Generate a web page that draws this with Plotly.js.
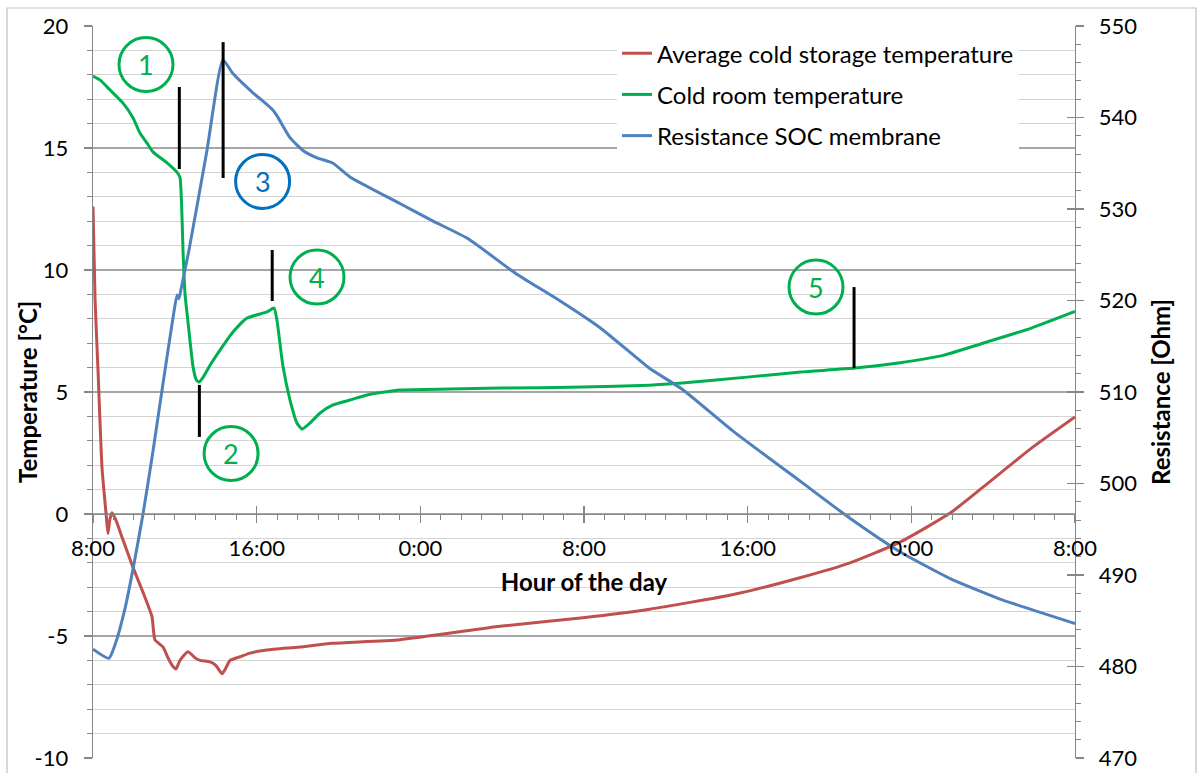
<!DOCTYPE html>
<html>
<head>
<meta charset="utf-8">
<script src="https://cdn.plot.ly/plotly-3.0.1.min.js"></script>
<style>html,body{margin:0;padding:0;background:#fff;}#chart{width:1199px;height:773px;}</style>
</head>
<body>
<div id="chart"></div>
<script>
// ---- Data (hours since 8:00 on day 1) ----
const seriesNames = ["Average cold storage temperature", "Cold room temperature", "Resistance SOC membrane"];

const redHours = [0,0.1,0.24,0.44,0.64,0.73,0.83,0.93,1.12,1.47,1.96,2.44,2.88,3.03,3.42,3.67,3.91,4.06,4.25,4.64,5.0,5.23,5.72,6.0,6.31,6.5,6.7,7.2,7.67,8.5,10.1,11.7,15.0,19.9,23.95,27.2,31.3,34.6,37.0,39.45,41.9,43.5,45.95,48];
const redTemp  = [12.6,8.8,6.0,1.9,0.0,-0.8,-0.2,0.05,-0.25,-1.07,-2.2,-3.2,-4.2,-5.16,-5.45,-5.9,-6.25,-6.35,-6.0,-5.65,-5.9,-6.0,-6.06,-6.2,-6.55,-6.3,-6.0,-5.85,-5.7,-5.57,-5.45,-5.3,-5.15,-4.6,-4.25,-3.9,-3.3,-2.6,-2.0,-1.15,0.04,1.1,2.75,3.98];

const greenHours = [0,0.34,0.83,1.47,1.96,2.30,2.64,2.93,3.62,4.11,4.25,4.35,4.40,4.50,4.64,4.89,5.05,5.18,5.38,5.72,6.21,6.84,7.53,8.51,8.85,8.99,9.29,9.63,9.97,10.22,10.61,11.10,11.73,12.56,13.39,15.0,17.45,19.9,23.95,27.2,28.8,32.1,34.6,37.25,39.45,41.55,43.5,45.8,48];
const greenTemp  = [17.95,17.79,17.38,16.84,16.23,15.6,15.2,14.84,14.39,14.0,13.8,12.2,10.8,9.0,7.9,6.03,5.5,5.41,5.6,6.1,6.72,7.46,8.03,8.28,8.44,7.95,6.03,4.67,3.73,3.48,3.73,4.14,4.47,4.67,4.88,5.08,5.12,5.16,5.2,5.28,5.37,5.62,5.82,5.98,6.2,6.5,7.0,7.6,8.3];

const blueHours = [0,0.78,1.08,1.56,1.96,2.44,2.93,3.42,3.91,4.11,4.2,4.3,4.69,5.57,6.35,6.84,7.82,8.41,8.80,8.99,9.63,10.26,10.95,11.73,12.56,15.0,16.6,18.3,20.7,22.8,24.8,27.2,28.8,31.3,34.6,37.0,39.4,41.9,44.3,48];
const blueOhm   = [481.9,480.9,482.4,486.3,490.7,496.6,503.5,510.9,518.1,520.6,520.2,521.2,525.5,536.4,546.3,544.8,542.7,541.6,540.8,540.2,537.8,536.4,535.6,535.0,533.5,530.6,528.7,526.8,522.9,520.0,517.0,512.6,510.3,505.7,500.2,496.2,492.6,489.6,487.4,484.7];

const xTickVals = [0,8,16,24,32,40,48];
const xTickText = ["8:00","16:00","0:00","8:00","16:00","0:00","8:00"];
const yTickVals = [-10,-5,0,5,10,15,20];
const yTickText = ["-10","-5","0","5","10","15","20"];

// Numbered markers: label, hour, temperature, colour
const markerLabels = ["1","2","3","4","5"];
const markerHours  = [2.59, 6.75, 8.29, 10.95, 35.34];
const markerTemps  = [18.42, 2.48, 13.63, 9.71, 9.30];
const markerColors = ["#00B050","#00B050","#0070C0","#00B050","#00B050"];

// Black indicator segments: hour, temp from, temp to
const segHours = [4.22, 6.36, 5.2, 8.76, 37.2];
const segFrom  = [17.50, 19.34, 5.29, 10.82, 9.30];
const segTo    = [14.14, 13.77, 3.16, 8.73, 5.98];

// ---- Style ----
const FONT = "Lato, 'Open Sans', sans-serif";
const AXIS = "#868686";
const colors = ["#C0504D", "#00B050", "#4F81BD"];
const lineStyle = (c) => ({color: c, width: 3, shape: "spline", smoothing: 0.5});

const traces = [
  {x: redHours, y: redTemp, name: seriesNames[0], mode: "lines", line: lineStyle(colors[0]), legendgroup: "a", xaxis: "x", yaxis: "y"},
  {x: greenHours, y: greenTemp, name: seriesNames[1], mode: "lines", line: lineStyle(colors[1]), legendgroup: "b", xaxis: "x", yaxis: "y"},
  {x: blueHours, y: blueOhm, name: seriesNames[2], mode: "lines", line: lineStyle(colors[2]), legendgroup: "c", xaxis: "x", yaxis: "y2"},
  // helper traces so that overlay tick axes are drawn
  {x: [], y: [], xaxis: "x2", yaxis: "y", showlegend: false, hoverinfo: "skip"},
  {x: [], y: [], xaxis: "x", yaxis: "y3", showlegend: false, hoverinfo: "skip"}
];

const shapes = [
  {type: "rect", xref: "paper", yref: "paper", x0: -0.0876, x1: 1.1232, y0: -0.06, y1: 1.0246, line: {color: "#BFBFBF", width: 1.2}, fillcolor: "rgba(0,0,0,0)", layer: "below"}
];
const annotations = [
  {xref: "paper", yref: "paper", x: -0.0672, y: 0.5, xanchor: "center", yanchor: "middle", textangle: -90,
   text: "<b>Temperature [°C]</b>", showarrow: false, font: {family: FONT, size: 24, color: "#000"}}
];
for (let i = 0; i < markerLabels.length; i++) {
  shapes.push({type: "circle", xref: "x", yref: "y", xsizemode: "pixel", ysizemode: "pixel",
    xanchor: markerHours[i], yanchor: markerTemps[i], x0: -27, x1: 27, y0: -27, y1: 27,
    line: {color: markerColors[i], width: 3}, fillcolor: "rgba(0,0,0,0)"});
  annotations.push({xref: "x", yref: "y", x: markerHours[i], y: markerTemps[i], text: markerLabels[i],
    showarrow: false, font: {family: FONT, size: 27, color: markerColors[i]}, xanchor: "center", yanchor: "middle"});
}
for (let i = 0; i < segHours.length; i++) {
  shapes.push({type: "line", xref: "x", yref: "y", x0: segHours[i], x1: segHours[i], y0: segFrom[i], y1: segTo[i],
    line: {color: "#000000", width: 3}});
}

const layout = {
  width: 1199, height: 773,
  margin: {l: 93, r: 124, t: 26, b: 15, pad: 0},
  paper_bgcolor: "#ffffff", plot_bgcolor: "#ffffff",
  font: {family: FONT, size: 22, color: "#000000"},
  showlegend: true,
  legend: {x: 0.5336, y: 0.993, xanchor: "left", yanchor: "top", bgcolor: "#ffffff", borderwidth: 0,
    font: {family: FONT, size: 24, color: "#000"}, traceorder: "grouped", tracegroupgap: 7, itemwidth: 30},
  xaxis: {
    range: [0, 48], anchor: "free", position: 1/3,
    tickmode: "array", tickvals: xTickVals, ticktext: xTickText,
    showline: true, linecolor: AXIS, linewidth: 1.3,
    ticks: "outside", ticklen: 8, tickwidth: 1.3, tickcolor: AXIS,
    minor: {tickmode: "linear", tick0: 0, dtick: 1, ticks: "outside", ticklen: 5, tickwidth: 1, tickcolor: AXIS, showgrid: false},
    showgrid: false, zeroline: false, ticklabelstandoff: 6,
    tickfont: {family: FONT, size: 22, color: "#000"},
    title: {text: "Hour of the day", font: {family: FONT, size: 24, color: "#000", weight: "bold"}, standoff: 14}
  },
  xaxis2: {
    overlaying: "x", matches: "x", anchor: "free", position: 1/3,
    tickmode: "array", tickvals: xTickVals, showticklabels: false,
    ticks: "inside", ticklen: 8, tickwidth: 1.3, tickcolor: AXIS,
    showline: false, showgrid: false, zeroline: false
  },
  yaxis: {
    range: [-10, 20], tickmode: "array", tickvals: yTickVals, ticktext: yTickText,
    showline: true, linecolor: AXIS, linewidth: 1.3,
    ticks: "outside", ticklen: 8, tickwidth: 1.3, tickcolor: AXIS,
    showgrid: true, gridcolor: "#A6A6A6", gridwidth: 1.2,
    minor: {tickmode: "linear", tick0: 0, dtick: 1, ticks: "outside", ticklen: 5, tickwidth: 1, tickcolor: AXIS, showgrid: true, gridcolor: "#D4D4D4", gridwidth: 1.3},
    zeroline: false, ticklabelstandoff: 11,
    tickfont: {family: FONT, size: 22, color: "#000"}
  },
  yaxis2: {
    range: [470, 550], overlaying: "y", side: "right", anchor: "x",
    tickmode: "linear", tick0: 470, dtick: 10,
    showline: true, linecolor: AXIS, linewidth: 1.3,
    ticks: "outside", ticklen: 8, tickwidth: 1.3, tickcolor: AXIS,
    minor: {tickmode: "linear", tick0: 470, dtick: 2, ticks: "outside", ticklen: 5, tickwidth: 1, tickcolor: AXIS, showgrid: false},
    showgrid: false, zeroline: false, ticklabelstandoff: 10,
    tickfont: {family: FONT, size: 22, color: "#000"},
    title: {text: "Resistance [Ohm]", font: {family: FONT, size: 24, color: "#000", weight: "bold"}, standoff: 17}
  },
  yaxis3: {
    range: [470, 550], overlaying: "y", side: "right", anchor: "x",
    tickmode: "linear", tick0: 470, dtick: 10, showticklabels: false,
    ticks: "inside", ticklen: 8, tickwidth: 1.3, tickcolor: AXIS,
    showline: false, showgrid: false, zeroline: false
  },
  shapes: shapes,
  annotations: annotations
};

Plotly.newPlot("chart", traces, layout, {displayModeBar: false, staticPlot: true});
</script>
</body>
</html>
